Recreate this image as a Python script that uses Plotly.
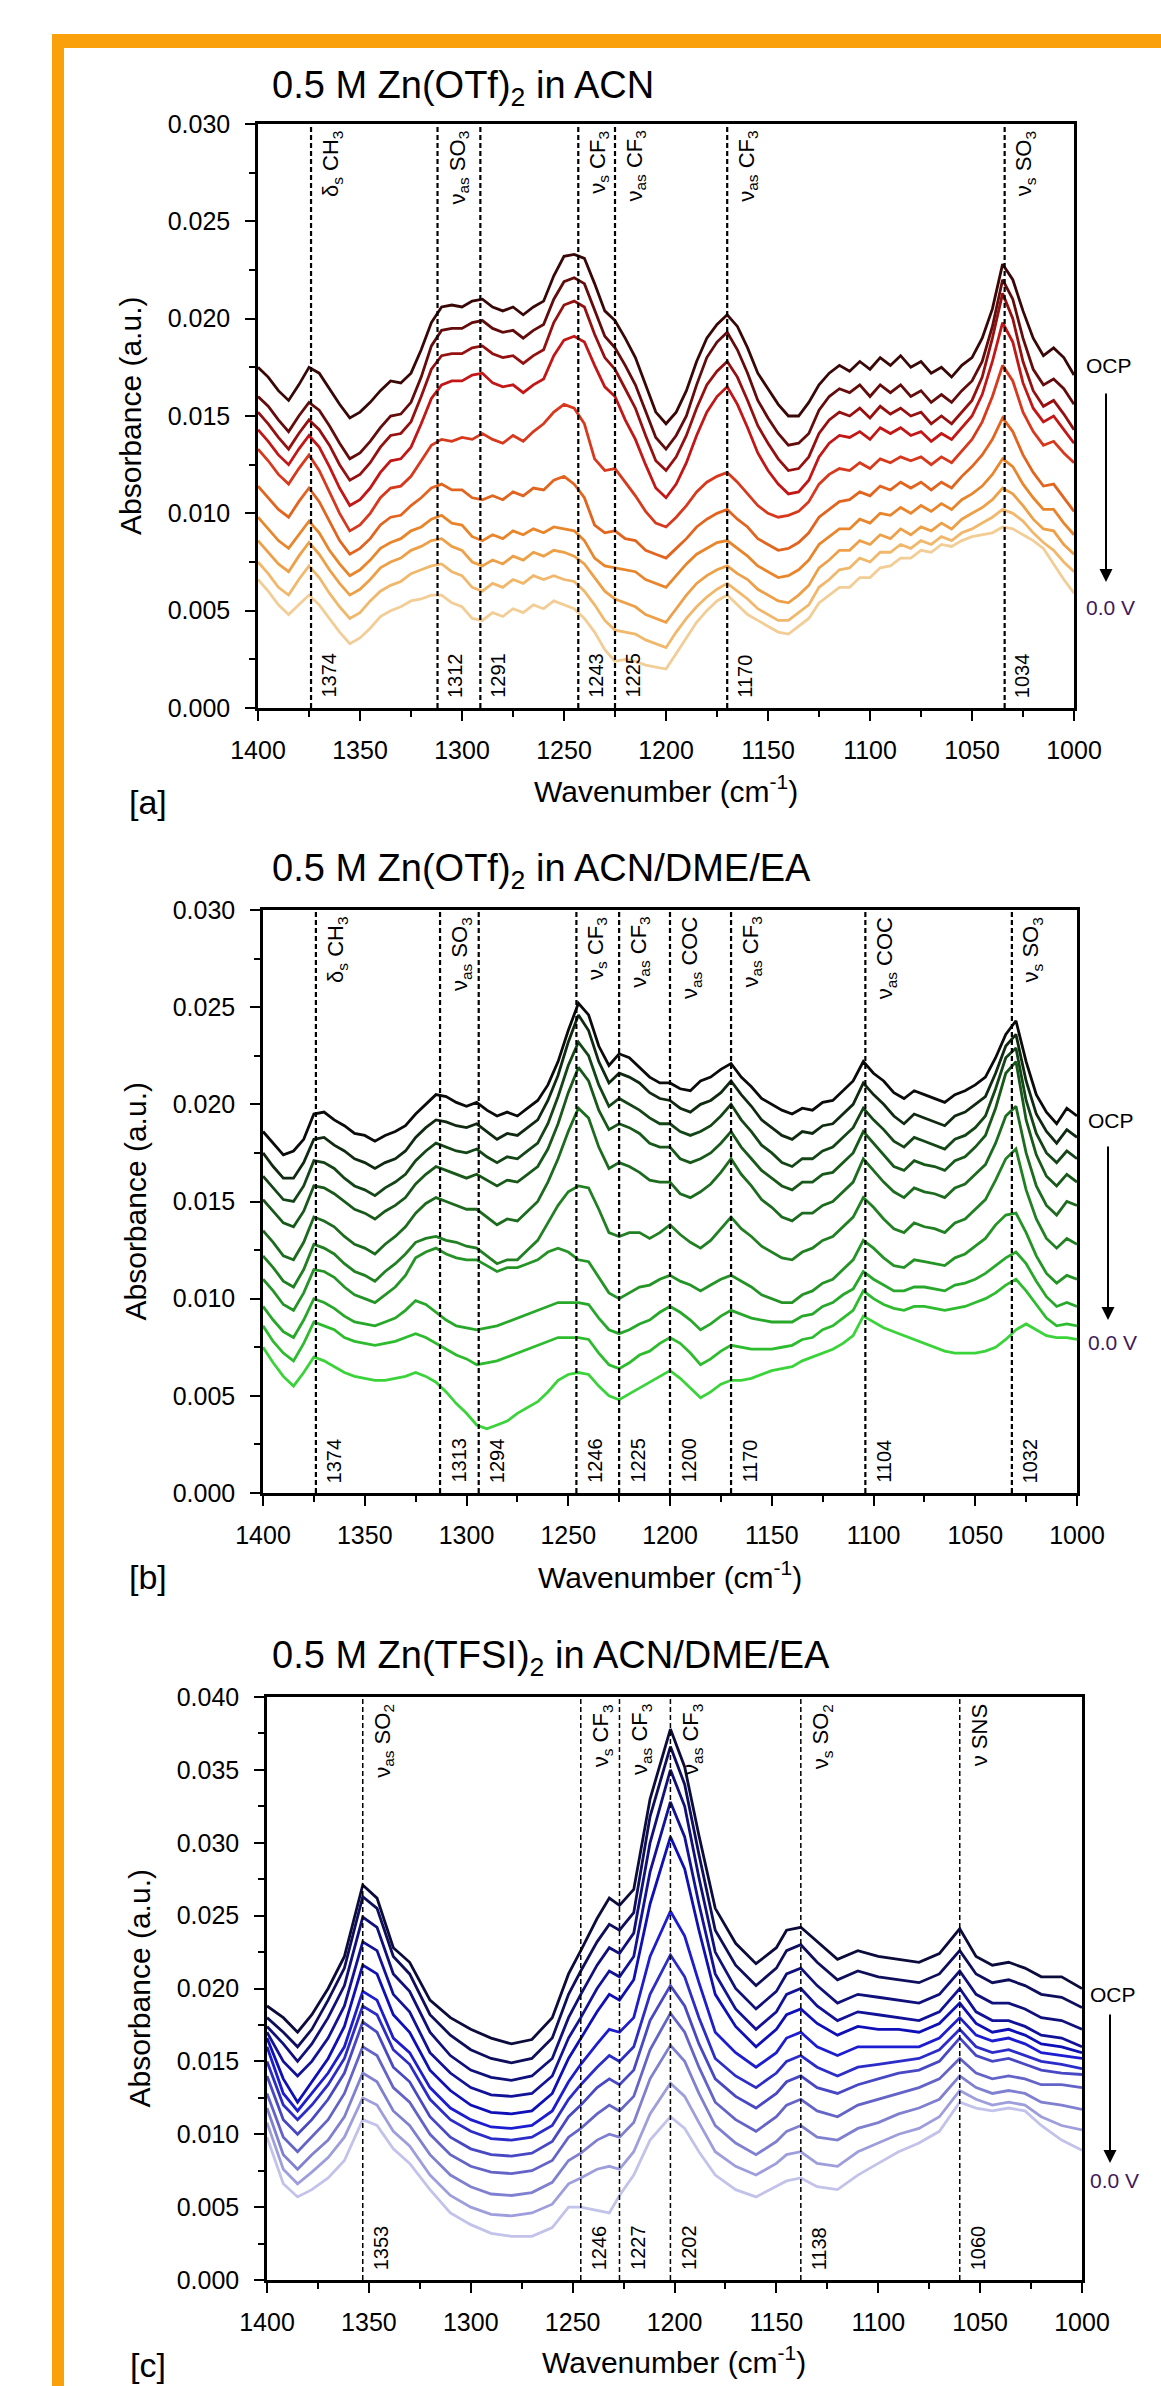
import plotly.graph_objects as go

# ---------------- DATA (absorbance x 1e-4) ----------------
# panels [a] and [b]: sampled every 5 cm-1
wn_ab = [1400,1395,1390,1385,1380,1375,1370,1365,1360,1355,
         1350,1345,1340,1335,1330,1325,1320,1315,1310,1305,
         1300,1295,1290,1285,1280,1275,1270,1265,1260,1255,
         1250,1245,1240,1235,1230,1225,1220,1215,1210,1205,
         1200,1195,1190,1185,1180,1175,1170,1165,1160,1155,
         1150,1145,1140,1135,1130,1125,1120,1115,1110,1105,
         1100,1095,1090,1085,1080,1075,1070,1065,1060,1055,
         1050,1045,1040,1035,1030,1025,1020,1015,1010,1005,
         1000]

a1 = [175,170,163,158,166,175,172,164,156,149, 152,157,163,168,167,172,184,198,206,207,
      206,209,210,206,204,206,202,206,209,222, 232,233,231,218,204,199,190,180,166,152,
      146,152,163,178,190,197,202,196,185,172, 164,156,150,150,157,166,172,176,173,178,
      174,180,176,181,175,178,172,175,170,176, 180,190,205,228,220,204,190,181,185,180, 171]
a2 = [160,155,148,142,150,157,153,145,136,128, 131,137,144,150,151,157,170,186,194,195,
      195,198,199,195,193,194,190,194,197,210, 219,221,218,204,191,185,176,166,152,139,
      133,140,150,166,180,188,193,184,172,158, 149,141,135,136,141,153,160,164,162,166,
      160,166,162,166,160,163,157,161,157,163, 168,178,196,220,210,190,174,166,169,164, 156]
a3 = [152,146,139,133,141,148,143,135,125,117, 120,126,134,140,141,147,160,174,181,182,
      182,185,186,182,180,181,177,181,184,198, 207,209,206,192,180,174,164,154,140,127,
      122,129,140,154,166,173,178,170,158,145, 136,128,122,123,129,141,148,152,150,154,
      149,155,151,154,150,152,146,150,146,152, 158,170,190,213,200,178,163,155,158,151, 143]
a4 = [143,137,130,125,133,140,134,124,113,104, 107,113,121,127,128,134,146,159,166,168,
      168,171,172,167,165,166,162,166,169,181, 189,191,188,176,165,160,148,138,125,113,
      108,115,126,140,152,160,165,156,144,131, 122,115,110,111,117,129,136,140,139,142,
      138,144,141,144,140,142,137,141,138,144, 150,161,178,198,188,167,154,147,150,143, 136]
a5 = [133,127,120,115,123,130,122,111,100,91, 94,100,108,113,114,119,127,135,138,137,
      139,138,141,138,136,140,137,142,146,152, 156,154,146,128,122,123,116,109,101,95,
      93,98,104,111,116,119,121,116,110,104, 100,98,99,101,106,115,120,123,122,126,
      123,128,126,129,127,129,125,129,126,132, 138,147,160,176,168,152,142,135,137,131, 126]
a6 = [114,108,102,98,106,113,106,96,86,79, 82,87,94,98,99,104,108,113,115,112,
      112,108,107,109,107,111,109,113,112,117, 119,115,108,94,90,91,87,86,81,79,
      77,82,87,93,97,100,102,97,93,87, 84,81,82,85,90,98,102,106,107,111,
      109,114,112,116,113,116,112,116,113,119, 124,130,138,149,142,130,121,114,115,108, 101]
a7 = [98,92,86,82,89,96,90,81,74,68, 71,76,82,85,87,91,93,97,99,95,
      94,88,86,89,87,91,89,92,90,93, 92,91,86,77,73,72,71,70,66,64,
      62,68,74,79,82,85,86,82,78,73, 70,67,68,71,76,84,88,92,92,97,
      95,100,99,103,100,104,101,105,102,107, 110,114,120,128,124,115,108,102,102,95, 89]
a8 = [86,80,74,70,78,85,79,71,64,58, 61,66,72,75,77,81,83,86,87,83,
      81,75,73,76,74,78,76,80,78,81, 80,78,74,67,60,56,54,52,48,46,
      44,51,58,64,68,71,73,69,66,61, 58,55,54,58,63,72,76,81,81,86,
      84,89,87,92,89,93,91,95,92,97, 100,103,107,113,110,104,97,92,91,84, 79]
a9 = [75,69,62,58,66,73,67,59,52,46, 49,55,60,63,65,69,71,73,74,70,
      68,62,60,64,62,66,64,68,66,68, 66,65,60,53,45,40,39,38,35,33,
      31,39,46,52,57,61,64,60,56,51, 48,45,45,49,53,62,66,71,72,77,
      75,80,80,84,82,86,84,88,86,90, 92,95,98,102,100,96,90,85,81,75, 70]
a10 = [66,60,53,48,53,58,53,46,39,33, 36,41,47,50,52,55,56,58,58,54,
       52,46,45,49,47,51,49,53,51,55, 53,51,46,39,30,24,25,24,22,21,
       20,28,36,44,50,55,58,53,48,45, 42,39,38,42,46,54,58,62,62,67,
       67,72,73,77,77,81,80,84,83,86, 88,89,90,93,92,89,86,82,74,66, 59]

b1 = [186,180,174,176,182,195,196,192,189,185, 184,181,184,186,189,195,200,205,204,201,
      199,201,197,194,196,194,198,202,210,222, 238,252,246,230,220,226,224,219,214,211,
      211,208,207,212,214,218,221,214,209,203, 200,197,195,198,197,201,202,207,212,222,
      216,212,206,203,207,205,203,201,205,207, 210,214,224,236,243,222,205,196,190,198, 194]
b2 = [175,168,162,162,170,182,183,179,176,172, 170,167,170,172,176,183,188,192,191,189,
      188,190,186,182,185,184,188,192,202,215, 232,246,238,222,211,216,214,211,206,203,
      202,198,196,200,202,206,212,205,199,192, 188,184,182,186,185,189,190,195,200,211,
      205,200,194,190,195,193,191,189,194,196, 200,204,216,230,236,212,195,186,180,187, 183]
b3 = [163,157,151,150,158,171,170,167,162,158, 156,153,157,160,164,171,176,180,178,176,
      175,177,173,170,173,172,176,180,190,204, 220,232,225,210,199,203,200,197,193,190,
      190,186,184,186,189,194,200,192,186,179, 175,170,168,172,172,176,178,183,188,198,
      192,187,181,178,183,181,179,177,182,184, 188,194,208,224,229,202,185,175,170,176, 172]
b4 = [151,145,139,137,145,158,157,154,150,146, 144,141,145,148,152,159,164,168,166,164,
      162,164,161,158,161,160,164,168,177,190, 206,219,212,197,187,190,188,185,180,178,
      178,172,170,172,175,180,186,178,172,166, 162,158,156,160,160,164,165,170,175,186,
      180,174,168,166,171,169,168,166,171,173, 178,184,198,216,222,192,174,163,158,164, 160]
b5 = [135,129,122,120,129,142,140,137,132,128, 126,123,128,132,137,144,149,152,150,148,
      146,146,142,138,141,140,145,150,160,172, 186,198,193,178,167,170,168,165,161,160,
      160,154,152,155,159,165,172,164,158,151, 147,142,140,144,144,148,150,155,160,172,
      166,160,155,152,157,155,154,152,157,159, 164,169,180,194,199,175,158,148,143,150, 148]
b6 = [122,116,109,106,115,128,126,123,118,114, 112,109,114,118,123,129,131,132,130,129,
      127,126,122,118,120,120,125,130,139,148, 155,158,157,146,134,132,134,134,131,134,
      138,133,129,126,130,136,142,136,132,127, 124,121,120,124,126,130,132,137,142,152,
      147,141,136,134,139,137,136,134,139,141, 146,151,161,172,177,156,141,131,126,131, 128]
b7 = [110,104,97,94,103,115,114,111,106,102, 100,98,102,106,112,121,124,126,123,121,
      120,120,117,114,116,116,118,120,124,126, 124,120,119,111,103,100,103,106,107,110,
      112,109,107,104,107,110,112,109,106,102, 100,98,98,102,104,108,110,115,120,130,
      126,121,117,116,120,119,118,117,121,123, 127,131,138,143,144,134,122,113,108,112, 110]
b8 = [96,89,83,80,89,100,98,95,91,88, 87,86,88,90,94,99,97,93,89,86,
      85,84,85,86,88,90,92,94,96,98, 98,98,97,90,84,82,84,87,89,93,
      96,93,89,84,87,91,94,92,90,89, 88,88,88,91,92,96,98,102,105,114,
      110,107,104,104,106,106,105,104,107,108, 110,113,117,121,124,118,109,101,96,98, 96]
b9 = [86,78,72,68,77,88,86,84,80,78, 77,76,77,78,80,82,80,77,74,71,
      69,66,67,68,70,72,74,76,78,80, 80,80,79,72,66,64,67,71,73,77,
      80,77,72,66,69,73,76,75,74,74, 74,75,76,79,80,84,86,90,94,104,
      100,97,95,94,96,96,95,94,95,96, 98,100,103,107,110,104,97,90,86,87, 86]
b10 = [75,67,60,55,62,70,68,65,62,60, 59,58,58,59,60,62,60,57,52,46,
       41,35,33,35,37,41,44,47,52,58, 61,62,61,55,50,48,51,54,57,60,
       63,59,54,49,52,56,58,58,59,61, 63,64,65,68,70,72,74,77,81,91,
       88,85,83,81,79,77,75,73,72,72, 72,73,75,79,84,87,84,81,80,80, 79]

wn_c = [1400,1392,1385,1378,1370,1362,1353,1346,1338,1330,1320,1310,1300,1290,1280,1270,1260,1252,1246,1238,1232,1227,1220,1212,1202,1195,1188,1180,1170,1160,1150,1145,1138,1130,1120,1110,1100,1090,1080,1070,1060,1052,1044,1036,1028,1020,1010,1000]
c1 = [188,180,170,182,200,222,271,262,228,218,192,180,172,166,162,165,180,210,226,248,262,257,268,330,378,352,305,255,231,217,228,240,242,232,220,226,222,220,218,224,241,222,216,218,214,208,208,200]
c2 = [180,170,160,172,192,214,263,255,222,210,182,168,158,152,149,152,166,196,212,232,244,240,252,318,366,340,292,240,216,202,214,226,230,218,206,212,208,206,204,210,226,210,204,206,202,196,194,187]
c3 = [174,162,150,162,180,202,249,242,210,198,170,154,144,139,137,140,152,180,196,216,228,224,238,300,350,325,276,225,200,186,198,210,214,202,190,196,194,192,190,196,212,196,190,190,186,180,178,172]
c4 = [170,150,140,150,166,188,232,226,196,184,156,142,132,127,126,128,140,166,180,200,212,208,222,280,328,304,258,210,186,172,184,196,200,188,178,184,182,180,178,184,200,184,178,178,174,168,166,160]
c5 = [166,138,122,136,152,174,216,210,182,170,144,130,120,115,114,116,128,152,166,184,196,192,206,258,304,282,240,196,174,160,172,182,186,176,168,174,172,172,170,176,190,176,170,172,168,162,160,156]
c6 = [160,128,116,128,142,160,198,192,166,156,132,118,110,105,104,106,116,136,148,162,172,170,180,222,253,236,204,170,156,146,156,166,170,160,154,160,160,160,160,166,180,168,164,166,162,156,154,152]
c7 = [150,120,110,120,134,152,188,182,158,148,124,110,102,97,96,98,106,124,134,146,154,150,160,196,223,208,180,152,140,132,142,150,154,146,140,146,148,150,152,158,172,160,156,158,154,150,148,145]
c8 = [140,110,100,110,124,142,177,170,146,136,112,98,90,86,85,87,95,112,120,132,138,134,144,178,202,188,162,138,126,118,128,136,140,132,128,134,138,142,144,150,166,154,150,152,148,144,142,141]
c9 = [128,98,88,98,110,128,160,154,132,122,100,86,78,74,73,75,82,98,104,114,120,116,126,158,183,170,146,122,110,102,112,120,124,116,112,120,124,128,132,138,152,142,138,140,138,134,134,132]
c10 = [118,86,76,86,96,112,142,136,116,106,86,72,64,59,58,60,67,82,87,96,100,98,108,138,161,150,128,106,94,86,95,102,106,98,96,104,108,114,118,124,140,132,128,130,128,122,120,117]
c11 = [108,76,66,74,84,98,125,120,102,92,72,58,50,45,44,46,52,66,70,76,78,76,88,114,135,126,108,88,78,72,80,86,88,80,78,88,94,100,104,112,130,124,120,122,120,112,106,103]
c12 = [98,66,57,62,70,82,110,106,90,80,62,46,38,32,30,30,36,50,50,48,46,58,72,96,112,104,88,72,62,57,64,68,70,64,62,72,80,88,94,102,122,118,116,118,116,106,96,89]

colors_a = ['#3a0707','#640b0b','#961010','#c41616','#d8381c','#e2641e','#e9852b','#eea048','#f1b86c','#f3cd96']
colors_b = ['#0b0b0b','#0f2a10','#144516','#18591a','#1c6b1e','#208022','#249426','#28a82a','#2ebc2f','#3ad43a']
colors_c = ['#0c0c3c','#0e0e5c','#10107c','#121298','#0f0fb8','#1c1cd0','#2c2cc8','#4848c4','#6464c8','#8080d0','#9e9edc','#c2c2ea']

lines_a = [1374,1312,1291,1243,1225,1170,1034]
labels_a = {1374:'δ<sub>s</sub> CH<sub>3</sub>',1312:'ν<sub>as</sub> SO<sub>3</sub>',1243:'ν<sub>s</sub> CF<sub>3</sub>',
            1225:'ν<sub>as</sub> CF<sub>3</sub>',1170:'ν<sub>as</sub> CF<sub>3</sub>',1034:'ν<sub>s</sub> SO<sub>3</sub>'}
lines_b = [1374,1313,1294,1246,1225,1200,1170,1104,1032]
labels_b = {1374:'δ<sub>s</sub> CH<sub>3</sub>',1313:'ν<sub>as</sub> SO<sub>3</sub>',1246:'ν<sub>s</sub> CF<sub>3</sub>',
            1225:'ν<sub>as</sub> CF<sub>3</sub>',1200:'ν<sub>as</sub> COC',1170:'ν<sub>as</sub> CF<sub>3</sub>',
            1104:'ν<sub>as</sub> COC',1032:'ν<sub>s</sub> SO<sub>3</sub>'}
lines_c = [1353,1246,1227,1202,1138,1060]
labels_c = {1353:'ν<sub>as</sub> SO<sub>2</sub>',1246:'ν<sub>s</sub> CF<sub>3</sub>',1227:'ν<sub>as</sub> CF<sub>3</sub>',
            1202:'ν<sub>as</sub> CF<sub>3</sub>',1138:'ν<sub>s</sub> SO<sub>2</sub>',1060:'ν SNS'}

titles = ['0.5 M Zn(OTf)<sub>2</sub> in ACN','0.5 M Zn(OTf)<sub>2</sub> in ACN/DME/EA','0.5 M Zn(TFSI)<sub>2</sub> in ACN/DME/EA']
letters = ['[a]','[b]','[c]']
yranges = [0.030, 0.030, 0.040]

# ---------------- LAYOUT GEOMETRY (pixels) ----------------
W, H = 1161, 2386
FONT = 'Liberation Sans, Arial, sans-serif'
def px(x): return x / W
def py(y): return 1 - y / H

panels = [
    dict(x0=258, x1=1074, y0=124, y1=708, title_y=88, xt_y=789, let_y=802, yt_x=130,
         ocp_y=366, ar_top=392, ar_bot=582, ar_x=1106, v_y=607),
    dict(x0=263, x1=1077, y0=910, y1=1493, title_y=871, xt_y=1575, let_y=1577, yt_x=135,
         ocp_y=1120, ar_top=1145, ar_bot=1320, ar_x=1108, v_y=1342),
    dict(x0=267, x1=1082, y0=1697, y1=2280, title_y=1658, xt_y=2360, let_y=2365, yt_x=139,
         ocp_y=1995, ar_top=2013, ar_bot=2163, ar_x=1110, v_y=2180),
]

series = [
    (wn_ab, [a1,a2,a3,a4,a5,a6,a7,a8,a9,a10], colors_a, lines_a, labels_a),
    (wn_ab, [b1,b2,b3,b4,b5,b6,b7,b8,b9,b10], colors_b, lines_b, labels_b),
    (wn_c, [c1,c2,c3,c4,c5,c6,c7,c8,c9,c10,c11,c12], colors_c, lines_c, labels_c),
]
for wn, specs, *_ in series:
    for s in specs:
        assert len(s) == len(wn), (len(s), len(wn))

fig = go.Figure()
annotations = []
shapes = []
for i, (wn, specs, cols, vlines, vlabels) in enumerate(series):
    p = panels[i]
    xa = 'x' if i == 0 else f'x{i+1}'
    ya = 'y' if i == 0 else f'y{i+1}'
    for s, c in reversed(list(zip(specs, cols))):
        fig.add_trace(go.Scatter(x=wn, y=[v / 1e4 for v in s], mode='lines',
                                 line=dict(color=c, width=2.8), xaxis=xa, yaxis=ya,
                                 showlegend=False, hoverinfo='skip'))
    dash_w = 1.5 if i == 2 else 2.2
    for v in vlines:
        shapes.append(dict(type='line', xref=xa, yref=f'{ya} domain', x0=v, x1=v, y0=0, y1=1,
                           line=dict(color='black', width=dash_w, dash='5px,3px'), layer='above'))
        annotations.append(dict(x=v, xref=xa, y=py(p['y1']), yref='paper', text=str(v), textangle=-90,
                                xanchor='left', yanchor='bottom', xshift=5, yshift=8, showarrow=False,
                                font=dict(family=FONT, size=20, color='black')))
        if v in vlabels:
            annotations.append(dict(x=v, xref=xa, y=py(p['y0']), yref='paper', text=vlabels[v], textangle=-90,
                                    xanchor='left', yanchor='top', xshift=5, yshift=-5, showarrow=False,
                                    font=dict(family=FONT, size=22, color='black')))
    annotations.append(dict(x=px(270), y=py(p['title_y']), xref='paper', yref='paper', text=titles[i],
                            xanchor='left', yanchor='middle', showarrow=False,
                            font=dict(family=FONT, size=38, color='black')))
    annotations.append(dict(x=px((p['x0'] + p['x1']) / 2), y=py(p['xt_y']), xref='paper', yref='paper',
                            text='Wavenumber (cm<sup>-1</sup>)', xanchor='center', yanchor='middle',
                            showarrow=False, font=dict(family=FONT, size=30, color='black')))
    annotations.append(dict(x=px(p['yt_x']), y=py((p['y0'] + p['y1']) / 2), xref='paper', yref='paper',
                            text='Absorbance (a.u.)', textangle=-90, xanchor='center', yanchor='middle',
                            showarrow=False, font=dict(family=FONT, size=30, color='black')))
    annotations.append(dict(x=px(148), y=py(p['let_y']), xref='paper', yref='paper', text=letters[i],
                            xanchor='center', yanchor='middle', showarrow=False,
                            font=dict(family=FONT, size=34, color='black')))
    annotations.append(dict(x=px(p['ar_x'] - 22), y=py(p['ocp_y']), xref='paper', yref='paper', text='OCP',
                            xanchor='left', yanchor='middle', showarrow=False,
                            font=dict(family=FONT, size=21, color='black')))
    annotations.append(dict(x=px(p['ar_x'] - 22), y=py(p['v_y']), xref='paper', yref='paper', text='0.0 V',
                            xanchor='left', yanchor='middle', showarrow=False,
                            font=dict(family=FONT, size=21, color='#3f1a5a')))
    annotations.append(dict(x=px(p['ar_x']), y=py(p['ar_bot']), xref='paper', yref='paper', text='',
                            showarrow=True, ax=0, ay=-(p['ar_bot'] - p['ar_top']), arrowhead=2,
                            arrowsize=1.3, arrowwidth=2, arrowcolor='black'))

    axis_common = dict(showline=True, linecolor='black', linewidth=2.5, mirror=True, ticks='outside',
                       ticklen=10, tickwidth=2, tickcolor='black', showgrid=False, zeroline=False,
                       automargin=False, tickfont=dict(family=FONT, size=25, color='black'))
    fig.layout[f'xaxis{"" if i == 0 else i+1}'] = dict(
        axis_common, domain=[px(p['x0']), px(p['x1'])], range=[1400, 1000], tickvals=list(range(1000, 1401, 50)),
        anchor=ya, minor=dict(ticks='outside', ticklen=6, tickwidth=2, tickcolor='black', dtick=25, showgrid=False),
        ticklabelstandoff=8)
    fig.layout[f'yaxis{"" if i == 0 else i+1}'] = dict(
        axis_common, domain=[py(p['y1']), py(p['y0'])], range=[0, yranges[i]], dtick=0.005, tickformat='.3f',
        anchor=xa, minor=dict(ticks='outside', ticklen=6, tickwidth=2, tickcolor='black', dtick=0.0025, showgrid=False),
        ticklabelstandoff=10)

shapes.append(dict(type='rect', xref='paper', yref='paper', x0=px(52), x1=1.0, y0=py(48), y1=py(34),
                   fillcolor='#FAA00A', line=dict(width=0), layer='above'))
shapes.append(dict(type='rect', xref='paper', yref='paper', x0=px(52), x1=px(64), y0=0.0, y1=py(34),
                   fillcolor='#FAA00A', line=dict(width=0), layer='above'))

fig.update_layout(width=W, height=H, margin=dict(l=0, r=0, t=0, b=0, autoexpand=False), paper_bgcolor='white',
                  plot_bgcolor='white', shapes=shapes, annotations=annotations, showlegend=False,
                  font=dict(family=FONT, color='black'))

fig.write_html('out.html', config={'displayModeBar': False, 'responsive': False},
               post_script="document.body.style.margin='0';")
